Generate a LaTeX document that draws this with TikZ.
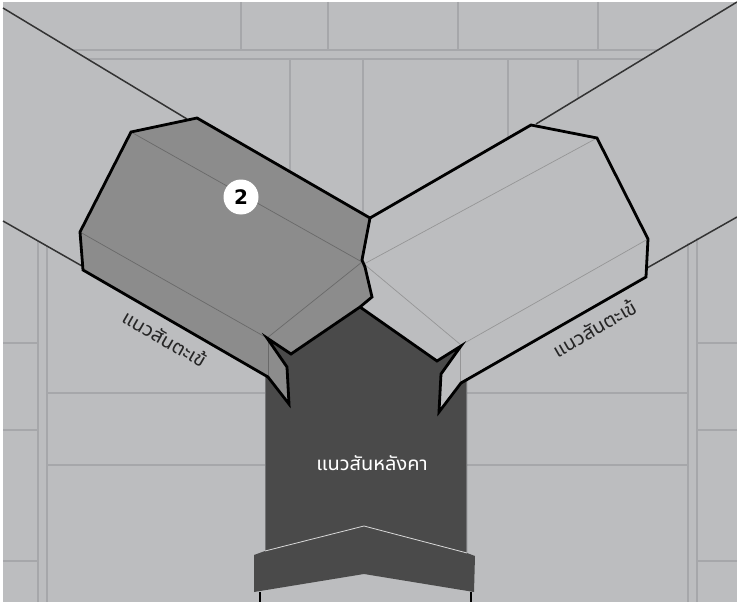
\documentclass[tikz,border=0pt]{standalone}
\usepackage{fontspec}
\setmainfont{DejaVu Sans}
\newfontfamily\thaifont[Script=Thai]{Noto Sans Thai UI}
\definecolor{bgc}{HTML}{BCBDBF}
\definecolor{gridc}{HTML}{A6A7AA}
\definecolor{midc}{HTML}{8C8C8C}
\definecolor{darkc}{HTML}{4A4A4A}
\tikzset{
 gridline/.style={draw=gridc,line width=1.2pt},
 rafterline/.style={draw=black!80,line width=1.5pt},
 heavy/.style={draw=black,line width=2.8pt,line join=miter,miter limit=10},
 fold/.style={draw=black!25!midc,line width=.7pt},
 foldlight/.style={draw=black!45,line width=.7pt,opacity=.8},
 lbl/.style={font=\thaifont\fontsize{20}{20}\selectfont,text=black!85,inner sep=0pt},
}
\begin{document}
\begin{tikzpicture}[x=1pt,y=-1pt]
\useasboundingbox (0,0) rectangle (737,602);
\fill[bgc] (3,2) rectangle (737,602);
% top courses
\draw[gridline] (73,50) -- (658,50);
\draw[gridline] (88,59) -- (643,59);
\foreach \x in {241,328,458,598} \draw[gridline] (\x,2) -- (\x,50);
\foreach \x/\y in {290/172,363/214,508/138,578/98} \draw[gridline] (\x,59) -- (\x,\y);
% lower courses
\foreach \x/\y in {38/241,47/246,688/243,697/238} \draw[gridline] (\x,\y) -- (\x,602);
\foreach \y in {343,430,561} {\draw[gridline] (3,\y) -- (38,\y); \draw[gridline] (697,\y) -- (737,\y);}
\foreach \y in {393,465} {\draw[gridline] (47,\y) -- (265,\y); \draw[gridline] (467,\y) -- (688,\y);}
% rafter edges
\draw[rafterline] (3,8) -- (187,119);
\draw[rafterline] (3,221) -- (82,266);
\draw[rafterline] (737,2) -- (536,124);
\draw[rafterline] (737,217) -- (647,268);
% dark ridge
\fill[darkc] (265,338) -- (360,307) -- (467,346) -- (467,553) -- (475,556) -- (474,592) -- (364,574) -- (254,592) -- (254,555) -- (265,551) -- cycle;
\draw[gridc!70!black,line width=.8pt] (265,375) -- (265,551);
\draw[gridc!70!black,line width=.8pt] (466.5,380) -- (466.5,553);
\draw[white!85!black,line width=.8pt] (265,551) -- (364,526) -- (467,553);
\draw[black,line width=1.6pt] (260,592) -- (260,602);
\draw[black,line width=1.6pt] (471,592) -- (471,602);
% left hip
\fill[midc] (131,132) -- (197,118) -- (370,218) -- (362,260) -- (372,297) -- (360,307) -- (291,354) -- (267,338) -- (287,367) -- (289,404) -- (268,377) -- (83,270) -- (80,232) -- cycle;
\fill[midc] (267,338) -- (287,367) -- (289,404) -- (268,377) -- cycle;
\fill[darkc] (267,338) -- (291,354) -- (287,367) -- cycle;
\draw[fold] (131,132) -- (362,262);
\draw[fold] (80,232) -- (267,338) -- (362,262);
\draw[fold] (268,338) -- (268,377);
% right hip
\fill[bgc] (370,218) -- (531,125) -- (597,138) -- (648,239) -- (646,277) -- (461,383) -- (439,412) -- (441,374) -- (461,346) -- (437,361) -- (360,307) -- (372,297) -- (365,267) -- cycle;
\fill[darkc] (461,346) -- (437,361) -- (441,374) -- cycle;
\draw[foldlight] (597,138) -- (364,264);
\draw[foldlight] (648,239) -- (461,345) -- (364,264);
\draw[foldlight] (460,346) -- (460,383);
% heavy outlines
\draw[heavy] (268,377) -- (83,270) -- (80,232) -- (131,132) -- (197,118) -- (370,218) -- (362,260) -- (365,267) -- (372,297) -- (360,307) -- (291,354) -- (267,338) -- (287,367) -- (289,404) -- cycle;
\draw[heavy] (370,218) -- (531,125) -- (597,138) -- (648,239) -- (646,277) -- (461,383) -- (439,412) -- (441,374) -- (461,346) -- (437,361) -- (360,307);
% labels
\node[circle,fill=white,minimum size=35pt,inner sep=0pt,font=\bfseries\fontsize{20}{20}\selectfont] (num) at (241,197) {2};
\node[lbl,rotate=-30] (lblleft) at (165,338) {แนวสันตะเข้};
\node[lbl,rotate=30] (lblright) at (594,328) {แนวสันตะเข้};
\node[lbl,text=white] (lblridge) at (372,463) {แนวสันหลังคา};
\end{tikzpicture}
\end{document}
